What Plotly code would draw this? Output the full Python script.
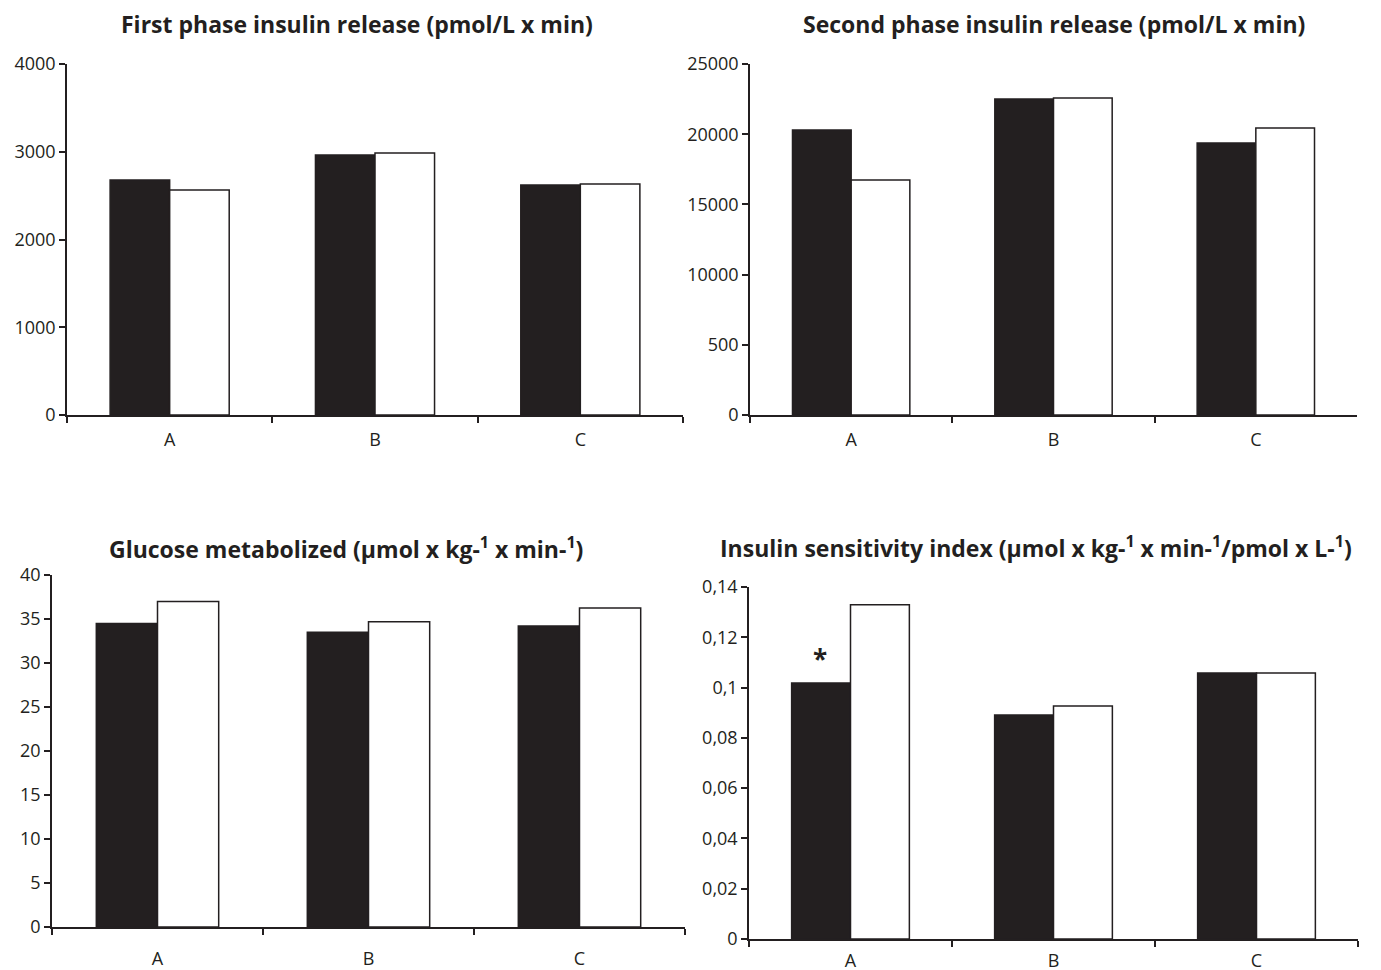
import plotly.graph_objects as go

W, H = 1381, 970
OFF = 8  # page body margin in the browser

categories = ["A", "B", "C"]

first_phase_black = [2678, 2963, 2621]
first_phase_white = [2564, 2986, 2632]

second_phase_black = [20300, 22510, 19370]
second_phase_white = [16740, 22580, 20440]
second_tickvals = [0, 5000, 10000, 15000, 20000, 25000]
second_ticktext = ["0", "500", "10000", "15000", "20000", "25000"]

glucose_black = [34.5, 33.5, 34.2]
glucose_white = [37.0, 34.7, 36.25]

sensitivity_black = [0.1018, 0.0891, 0.1058]
sensitivity_white = [0.1329, 0.0927, 0.1058]
sens_tickvals = [0, 0.02, 0.04, 0.06, 0.08, 0.1, 0.12, 0.14]
sens_ticktext = ["0", "0,02", "0,04", "0,06", "0,08", "0,1", "0,12", "0,14"]

titles = [
    "First phase insulin release (pmol/L x min)",
    "Second phase insulin release (pmol/L x min)",
    "Glucose metabolized (µmol x kg-<sup>1</sup> x min-<sup>1</sup>)",
    "Insulin sensitivity index (µmol x kg-<sup>1</sup> x min-<sup>1</sup>/pmol x L-<sup>1</sup>)",
]

INK = "#231f20"
FONT = "Open Sans"

# pixel boxes (x0, x1, ytop, ybottom)
boxes = [
    (67, 683, 64, 415),
    (750, 1357, 64, 415),
    (52, 685, 575, 927),
    (749, 1358, 587, 939),
]
title_pos = [(357, 24), (1054, 24), (346, 548), (1036, 547)]
label_standoff = [8, 8, 15, 5]

data = [
    (first_phase_black, first_phase_white),
    (second_phase_black, second_phase_white),
    (glucose_black, glucose_white),
    (sensitivity_black, sensitivity_white),
]
ranges = [[0, 4000], [0, 25000], [0, 40], [0, 0.14]]
ytick_cfg = [
    dict(tickvals=[0, 1000, 2000, 3000, 4000]),
    dict(tickvals=second_tickvals, ticktext=second_ticktext),
    dict(tickvals=list(range(0, 41, 5))),
    dict(tickvals=sens_tickvals, ticktext=sens_ticktext),
]


def px_x(p):
    return (p - OFF) / W


def px_y(p):
    return 1 - (p - OFF) / H


fig = go.Figure()
layout = dict(
    width=W, height=H, margin=dict(l=0, r=0, t=0, b=0, autoexpand=False),
    paper_bgcolor="white", plot_bgcolor="white",
    showlegend=False, barmode="group", bargap=0.42, bargroupgap=0,
    font=dict(family=FONT, color=INK, size=18),
    annotations=[],
)

for i, ((blk, wht), box, rng, ytc) in enumerate(zip(data, boxes, ranges, ytick_cfg)):
    n = "" if i == 0 else str(i + 1)
    xa, ya = "x" + n, "y" + n
    fig.add_trace(go.Bar(x=categories, y=blk, xaxis=xa, yaxis=ya,
                         marker=dict(color=INK, line=dict(color=INK, width=1.5)),
                         offsetgroup="1"))
    fig.add_trace(go.Bar(x=categories, y=wht, xaxis=xa, yaxis=ya,
                         marker=dict(color="white", line=dict(color=INK, width=1.5)),
                         offsetgroup="2"))
    x0, x1, yt, yb = box
    layout["xaxis" + n] = dict(
        domain=[px_x(x0), px_x(x1)], anchor=ya, showline=True, linecolor=INK, linewidth=1.5,
        ticks="outside", tickson="boundaries", ticklen=6, tickwidth=1.5, tickcolor=INK,
        showgrid=False, zeroline=False, automargin=False,
        ticklabelstandoff=label_standoff[i],
        tickfont=dict(size=18, color=INK, family=FONT),
    )
    layout["yaxis" + n] = dict(
        domain=[px_y(yb), px_y(yt)], anchor=xa, range=rng, showline=True,
        linecolor=INK, linewidth=1.5, ticks="outside", ticklen=6, tickwidth=1.5,
        tickcolor=INK, showgrid=False, zeroline=False, automargin=False,
        tickfont=dict(size=18, color=INK, family=FONT), **ytc,
    )
    tx, ty = title_pos[i]
    layout["annotations"].append(dict(
        text="<b>" + titles[i] + "</b>", x=px_x(tx), y=px_y(ty), xref="paper", yref="paper",
        xanchor="center", yanchor="middle", showarrow=False,
        font=dict(family=FONT, size=23, color=INK),
    ))

layout["annotations"].append(dict(
    text="<b>*</b>", x="A", y=sensitivity_black[0], xref="x4", yref="y4",
    xshift=-30, yshift=4, yanchor="bottom", showarrow=False,
    font=dict(family=FONT, size=26, color=INK),
))

fig.update_layout(**layout)
fig.write_html("out.html")
